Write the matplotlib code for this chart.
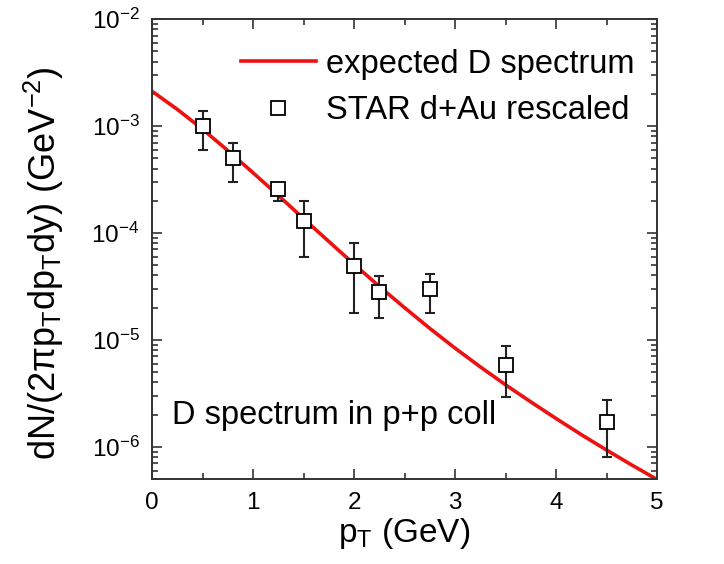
import numpy as np
import matplotlib
matplotlib.use("Agg")
import matplotlib.pyplot as plt
from matplotlib.ticker import LogLocator, MultipleLocator

plt.rcParams['font.family'] = ['Liberation Sans', 'DejaVu Sans']
plt.rcParams['mathtext.fontset'] = 'custom'
plt.rcParams['mathtext.rm'] = 'Liberation Sans'
plt.rcParams['mathtext.it'] = 'Liberation Sans:italic'
plt.rcParams['mathtext.default'] = 'regular'

# expected D spectrum (pT in GeV, yield in GeV^-2)
curve_pt = [0.0, 0.25, 0.5, 0.75, 1.0, 1.25, 1.5, 1.75, 2.0, 2.25, 2.5,
            2.75, 3.0, 3.25, 3.5, 3.75, 4.0, 4.25, 4.5, 4.75, 5.0]
curve_yield = [2.11e-3, 1.43e-3, 9.33e-4, 5.89e-4, 3.65e-4, 2.24e-4, 1.36e-4,
               8.32e-5, 5.10e-5, 3.16e-5, 2.0e-5, 1.28e-5, 8.37e-6, 5.59e-6,
               3.80e-6, 2.63e-6, 1.84e-6, 1.30e-6, 9.33e-7, 6.76e-7, 4.95e-7]

# STAR d+Au points, rescaled
star_pt = [0.5, 0.8, 1.25, 1.5, 2.0, 2.25, 2.75, 3.5, 4.5]
star_yield = [1.0e-3, 5.0e-4, 2.55e-4, 1.3e-4, 4.9e-5, 2.8e-5, 3.0e-5, 5.8e-6, 1.72e-6]
star_hi = [1.38e-3, 6.9e-4, 2.93e-4, 2.0e-4, 8.1e-5, 3.96e-5, 4.14e-5, 8.7e-6, 2.72e-6]
star_lo = [6.0e-4, 3.0e-4, 2.0e-4, 6.0e-5, 1.79e-5, 1.6e-5, 1.79e-5, 2.9e-6, 8.0e-7]


def main():
    fig = plt.figure(figsize=(7.24, 5.64), dpi=100)
    ax = fig.add_axes([0.21, 0.1507, 0.6975, 0.8156])

    ax.plot(curve_pt, curve_yield, color='#ee1111', linewidth=2.6,
            label='expected D spectrum', zorder=2)

    y = np.array(star_yield)
    yerr = [y - np.array(star_lo), np.array(star_hi) - y]
    ax.errorbar(star_pt, y, yerr=yerr, fmt='none', ecolor='#222222',
                elinewidth=1.5, capsize=3.8, capthick=1.5, zorder=3)
    ax.plot(star_pt, y, 's', markersize=9.5, markerfacecolor='white',
            markeredgecolor='black', markeredgewidth=1.3,
            label='STAR d+Au rescaled', zorder=4)

    ax.set_yscale('log')
    ax.set_xlim(0, 5)
    ax.set_ylim(5e-7, 1e-2)
    ax.xaxis.set_major_locator(MultipleLocator(1))
    ax.xaxis.set_minor_locator(MultipleLocator(0.5))
    ax.yaxis.set_major_locator(LogLocator(base=10, numticks=10))
    ax.yaxis.set_minor_locator(LogLocator(base=10, subs=np.arange(2, 10), numticks=10))
    ax.tick_params(which='both', direction='in', top=True, right=True,
                   width=1.2, labelsize=17.5, color='#333333')
    ax.tick_params(which='major', length=7, pad=9)
    ax.tick_params(which='minor', length=4)
    for s in ax.spines.values():
        s.set_linewidth(1.4)
        s.set_color('#333333')

    ax.set_xlabel(r'p$_T$ (GeV)', fontsize=24, labelpad=2)
    ax.set_ylabel(r'dN/(2$\pi$p$_T$dp$_T$dy) (GeV$^{-2}$)', fontsize=26)
    ax.yaxis.set_label_coords(-0.17, 0.47)

    ax.text(0.04, 0.12, 'D spectrum in p+p coll', transform=ax.transAxes,
            fontsize=23.5, ha='left', va='baseline')

    ax.legend(loc='upper right', bbox_to_anchor=(1.0, 0.985),
              frameon=False, fontsize=23.5, handlelength=2.3, handletextpad=0.3,
              labelspacing=0.47, borderpad=0.2)

    fig.savefig('out.png', dpi=100)


if __name__ == "__main__":
    main()
